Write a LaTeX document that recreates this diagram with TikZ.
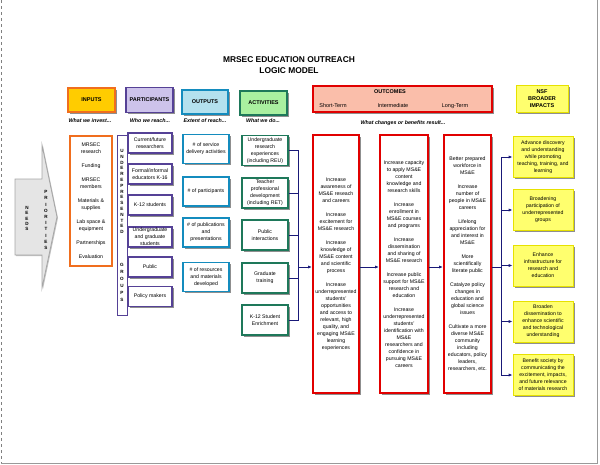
\documentclass[tikz,border=0pt]{standalone}
\usepackage{fontspec}
\setmainfont{Liberation Sans}
\usetikzlibrary{arrows.meta,shadows}

\definecolor{inorange}{RGB}{240,110,30}
\definecolor{ingold}{RGB}{255,204,0}
\definecolor{partpurple}{RGB}{85,65,150}
\definecolor{partlav}{RGB}{205,195,235}
\definecolor{outblue}{RGB}{20,140,190}
\definecolor{outlight}{RGB}{180,225,238}
\definecolor{actgreen}{RGB}{30,120,90}
\definecolor{actlight}{RGB}{170,240,160}
\definecolor{outcred}{RGB}{225,0,0}
\definecolor{outcsalmon}{RGB}{250,190,170}
\definecolor{impyellow}{RGB}{255,255,110}
\definecolor{impborder}{RGB}{230,225,0}
\definecolor{busnavy}{RGB}{25,25,120}

\newcommand{\bodyfont}{\fontsize{5.2}{7}\selectfont}
\newcommand{\headfont}{\fontsize{5.5}{7}\selectfont\bfseries}

\tikzset{
  boxshadow/.style={drop shadow={shadow xshift=1.5pt,shadow yshift=-1.5pt,fill=black!55,opacity=0.8}},
  headbox/.style={draw, line width=1.5pt, inner sep=0pt, align=center, font=\headfont, boxshadow},
  colbox/.style={draw, line width=1.2pt, inner sep=0pt, align=center, font=\bodyfont, fill=white},
  partbox/.style={colbox, boxshadow, draw=partpurple, minimum width=44pt, minimum height=20pt},
  outbox/.style={colbox, boxshadow, draw=outblue, minimum width=46pt, minimum height=29pt},
  actbox/.style={colbox, boxshadow, draw=actgreen, minimum width=46pt, minimum height=30pt},
  outcbox/.style={colbox, boxshadow, draw=outcred, line width=2pt, minimum height=258pt},
  impbox/.style={colbox, boxshadow, draw=impborder, fill=impyellow, line width=0.8pt, minimum width=60pt, minimum height=41pt},
  askline/.style={font=\fontsize{5.3}{7}\selectfont\bfseries\itshape},
  letters/.style={font=\fontsize{4.6}{5.8}\selectfont\bfseries, align=center, inner sep=0pt},
  bus/.style={draw=busnavy, line width=0.9pt},
  busarrow/.style={bus, -{Latex[length=4pt,width=3.2pt]}}
}

\begin{document}
\begin{tikzpicture}[x=1pt,y=-1pt]
\useasboundingbox (0,0) rectangle (600,464);
%frame
\draw[gray, dashed] (1,0) -- (1,463);
\draw[gray!80] (1,463) -- (597,463) -- (597,0);

\node[font=\fontsize{8.4}{11}\selectfont\bfseries, align=center] (title) at (289,65.5) {MRSEC EDUCATION OUTREACH\\LOGIC MODEL};

%headers
\node[headbox, draw=inorange, fill=ingold, minimum width=47pt, minimum height=24pt] (inputs) at (91.5,100) {INPUTS};
\node[headbox, draw=partpurple, fill=partlav, minimum width=47pt, minimum height=25pt] (participants) at (149.5,100) {PARTICIPANTS};
\node[headbox, draw=outblue, fill=outlight, minimum width=46pt, minimum height=24pt] (outputs) at (205,102) {OUTPUTS};
\node[headbox, draw=actgreen, fill=actlight, minimum width=47pt, minimum height=24pt] (activities) at (263.5,103) {ACTIVITIES};
\node[headbox, draw=outcred, fill=outcsalmon, line width=2pt, minimum width=179pt, minimum height=26pt] (outcomes) at (402.5,99) {};
\node[font=\headfont] (outcomes title) at (390,92) {OUTCOMES};
\node[font=\fontsize{5.5}{7}\selectfont] (short title) at (333,106) {Short-Term};
\node[font=\fontsize{5.5}{7}\selectfont] (mid title) at (393,106) {Intermediate};
\node[font=\fontsize{5.5}{7}\selectfont] (long title) at (455,106) {Long-Term};
\node[headbox, draw=impborder, fill=impyellow, line width=1pt, minimum width=52pt, minimum height=27pt] (nsf) at (542,98.5) {NSF\\BROADER\\IMPACTS};

\node[askline] (invest) at (90,121) {What we invest...};
\node[askline] (reach) at (150,121) {Who we reach...};
\node[askline] (extent) at (205,121) {Extent of reach...};
\node[askline] (do) at (263,121) {What we do...};
\node[askline] (result) at (403,123) {What changes or benefits result...};

%needs and priorities
\draw[fill=gray!20, draw=gray!70, line width=0.8pt, drop shadow={shadow xshift=1pt,shadow yshift=-1pt,fill=black!40,opacity=0.6}]
  (15,179) -- (42,179) -- (42,145) -- (57,217) -- (42,288) -- (42,255) -- (15,255) -- cycle;
\node[letters, font=\fontsize{4.6}{5.3}\selectfont\bfseries] (needs) at (27,218.5) {N\\E\\E\\D\\S};
\node[letters, font=\fontsize{4.6}{6.2}\selectfont\bfseries] (priorities) at (46,220) {P\\R\\I\\O\\R\\I\\T\\I\\E\\S};

%inputs
\node[colbox, draw=inorange, line width=1.3pt, minimum width=42pt, minimum height=130pt] (inputlist) at (91,201)
  {MRSEC\\research\\[7pt]Funding\\[7pt]MRSEC\\members\\[7pt]Materials \&\\supplies\\[7pt]Lab space \&\\equipment\\[7pt]Partnerships\\[7pt]Evaluation};

%participants
\node[colbox, draw=partpurple, line width=1pt, minimum width=10pt, minimum height=180pt] (urgbar) at (122,225) {};
\node[letters] (urgword) at (122,191.5) {U\\N\\D\\E\\R\\E\\P\\R\\E\\S\\E\\N\\T\\E\\D};
\node[letters, font=\fontsize{4.6}{7}\selectfont\bfseries] (groupsword) at (122,282.5) {G\\R\\O\\U\\P\\S};
\node[partbox] (part1) at (150,143) {Current/future\\researchers};
\node[partbox] (part2) at (150,174) {Formal/informal\\educators K-16};
\node[partbox] (part3) at (150,205) {K-12 students};
\node[partbox] (part4) at (150,237) {Undergraduate\\and graduate\\students};
\node[partbox] (part5) at (150,267) {Public};
\node[partbox] (part6) at (150,296.5) {Policy makers};

%outputs
\node[outbox] (out1) at (206,149) {\# of service\\delivery activities};
\node[outbox] (out2) at (206,191.5) {\# of participants};
\node[outbox] (out3) at (206,232.5) {\# of publications\\and\\presentations};
\node[outbox] (out4) at (206,277) {\# of resources\\and materials\\developed};

%activities
\node[actbox] (act1) at (265,150.5) {Undergraduate\\research\\experiences\\(including REU)};
\node[actbox] (act2) at (265,193) {Teacher\\professional\\development\\(including RET)};
\node[actbox] (act3) at (265,235) {Public\\interactions};
\node[actbox] (act4) at (265,278) {Graduate\\training};
\node[actbox] (act5) at (265,320) {K-12 Student\\Enrichment};

%outcomes
\node[outcbox, minimum width=46pt] (shortterm) at (336,264)
  {Increase\\awareness of\\MS\&E reseach\\and careers\\[7pt]Increase\\excitement for\\MS\&E research\\[7pt]Increase\\knowledge of\\MS\&E content\\and scientific\\process\\[7pt]Increase\\underrepresented\\students'\\opportunities\\and access to\\relevant, high\\quality, and\\engaging MS\&E\\learning\\experiences};
\node[outcbox, minimum width=48pt] (midterm) at (404,264)
  {Increase capacity\\to apply MS\&E\\content\\knowledge and\\research skills\\[7pt]Increase\\enrollment in\\MS\&E courses\\and programs\\[7pt]Increase\\dissemination\\and sharing of\\MS\&E research\\[7pt]Increase public\\support for MS\&E\\research and\\education\\[7pt]Increase\\underrepresented\\students'\\identification with\\MS\&E\\researchers and\\confidence in\\pursuing MS\&E\\careers};
\node[outcbox, minimum width=47pt] (longterm) at (467.5,264)
  {Better prepared\\workforce in\\MS\&E\\[7pt]Increase\\number of\\people in MS\&E\\careers\\[7pt]Lifelong\\appreciation for\\and interest in\\MS\&E\\[7pt]More\\scientifically\\literate public\\[7pt]Catalyze policy\\changes in\\education and\\global science\\issues\\[7pt]Cultivate a more\\diverse MS\&E\\community\\including\\educators, policy\\leaders,\\researchers, etc.};

%broader impacts
\node[impbox] (impact1) at (543,157) {Advance discovery\\and understanding\\while promoting\\teaching, training, and\\learning};
\node[impbox] (impact2) at (543,210) {Broadening\\participation of\\underrepresented\\groups};
\node[impbox] (impact3) at (543,265.5) {Enhance\\infrastructure for\\research and\\education};
\node[impbox] (impact4) at (543,321.5) {Broaden\\dissemination to\\enhance scientific\\and technological\\understanding};
\node[impbox] (impact5) at (543,375) {Benefit society by\\communicating the\\excitement, impacts,\\and future relevance\\of materials research};

%connectors
\coordinate (actjoin) at (298,267);
\foreach \i in {1,...,5} \draw[bus] (act\i.east) -| (actjoin);
\draw[busarrow] (actjoin) -- (actjoin -| shortterm.west);
\draw[busarrow] (shortterm.east |- actjoin) -- (midterm.west |- actjoin);
\draw[busarrow] (midterm.east |- actjoin) -- (longterm.west |- actjoin);
\coordinate (impjoin) at (501,267);
\draw[bus] (longterm.east |- impjoin) -- (impjoin);
\foreach \i in {1,...,5} \draw[busarrow] (impjoin) |- (impact\i.west);

\end{tikzpicture}
\end{document}
